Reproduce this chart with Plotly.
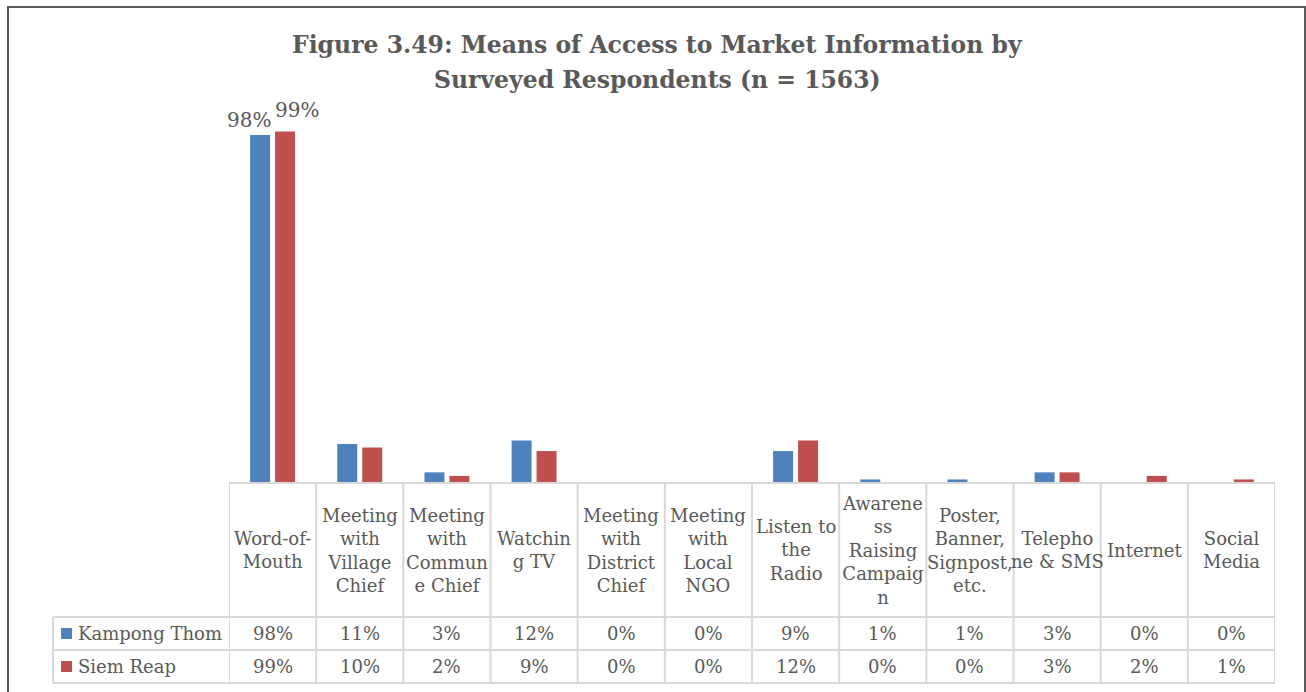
import plotly.graph_objects as go

# ---- data -------------------------------------------------------------
categories = [
    "Word-of-Mouth", "Meeting with Village Chief", "Meeting with Commune Chief",
    "Watching TV", "Meeting with District Chief", "Meeting with Local NGO",
    "Listen to the Radio", "Awareness Raising Campaign",
    "Poster, Banner, Signpost, etc.", "Telephone & SMS", "Internet", "Social Media",
]
# header labels as wrapped in the data-table cells
header_labels = [
    "Word-of-<br>Mouth", "Meeting<br>with<br>Village<br>Chief",
    "Meeting<br>with<br>Commun<br>e Chief", "Watchin<br>g TV",
    "Meeting<br>with<br>District<br>Chief", "Meeting<br>with<br>Local<br>NGO",
    "Listen to<br>the<br>Radio", "Awarene<br>ss<br>Raising<br>Campaig<br>n",
    "Poster,<br>Banner,<br>Signpost,<br>etc.", "Telepho<br>ne & SMS",
    "Internet", "Social<br>Media",
]
series_names = ["Kampong Thom", "Siem Reap"]
kampong_thom = [0.98, 0.11, 0.03, 0.12, 0.00, 0.00, 0.09, 0.01, 0.01, 0.03, 0.00, 0.00]
siem_reap = [0.99, 0.10, 0.02, 0.09, 0.00, 0.00, 0.12, 0.00, 0.00, 0.03, 0.02, 0.01]
colors = ["#4F81BD", "#C0504D"]

title_lines = ["Figure 3.49: Means of Access to Market Information by",
               "Surveyed Respondents (n = 1563)"]

# ---- canvas geometry --------------------------------------------------
W, H = 1306, 692
FONT = "DejaVu Serif"
TXT = "#595959"
GRID = "#D9D9D9"


def px(x):
    return x / W


def py(y):
    return 1 - y / H


plot_left, plot_right = 229, 1275
base_y, top_y = 483, 128          # pixel rows of 0% and 100%
row_tops = [617, 650, 683]        # data-table row boundaries
legend_left = 53

fig = go.Figure()
for name, vals, col in zip(series_names, [kampong_thom, siem_reap], colors):
    fig.add_bar(
        x=categories, y=vals, name=name, marker_color=col,
        marker_line_width=0, showlegend=False,
    )

shapes = []
annotations = []

# table horizontal lines
shapes.append(dict(type="line", xref="paper", yref="paper",
                   x0=px(plot_left), x1=px(plot_right), y0=py(base_y), y1=py(base_y),
                   line=dict(color=GRID, width=2)))
for r in row_tops:
    shapes.append(dict(type="line", xref="paper", yref="paper",
                       x0=px(legend_left), x1=px(plot_right), y0=py(r), y1=py(r),
                       line=dict(color=GRID, width=2)))
# table vertical lines: category boundaries
for i in range(len(categories) + 1):
    shapes.append(dict(type="line", xref="x", yref="paper",
                       x0=i - 0.5, x1=i - 0.5, y0=py(base_y), y1=py(row_tops[-1]),
                       line=dict(color=GRID, width=2)))
shapes.append(dict(type="line", xref="paper", yref="paper",
                   x0=px(legend_left), x1=px(legend_left),
                   y0=py(row_tops[0]), y1=py(row_tops[-1]),
                   line=dict(color=GRID, width=2)))

# header cells
for cat, lab in zip(categories, header_labels):
    annotations.append(dict(x=cat, xref="x", y=py((base_y + row_tops[0]) / 2), yref="paper",
                            text=lab, showarrow=False, xanchor="center", yanchor="middle",
                            font=dict(family=FONT, size=18, color=TXT)))

# value rows with legend keys
for k, (name, vals, col) in enumerate(zip(series_names, [kampong_thom, siem_reap], colors)):
    yc = (row_tops[k] + row_tops[k + 1]) / 2
    for cat, v in zip(categories, vals):
        annotations.append(dict(x=cat, xref="x", y=py(yc), yref="paper",
                                text=f"{v:.0%}", showarrow=False,
                                xanchor="center", yanchor="middle",
                                font=dict(family=FONT, size=18, color=TXT)))
    shapes.append(dict(type="rect", xref="paper", yref="paper",
                       x0=px(61), x1=px(72), y0=py(yc - 5.5), y1=py(yc + 5.5),
                       fillcolor=col, line=dict(width=0)))
    annotations.append(dict(x=px(76), xref="paper", y=py(yc), yref="paper",
                            text=name, showarrow=False, xanchor="left", yanchor="middle",
                            font=dict(family=FONT, size=18, color=TXT)))

# data labels on the Word-of-Mouth pair
for vals, dx, dy in [(kampong_thom, -24, 1), (siem_reap, 24, 8)]:
    annotations.append(dict(x=categories[0], xref="x", y=vals[0], yref="y",
                            text=f"{vals[0]:.0%}", showarrow=False,
                            xanchor="center", yanchor="bottom", xshift=dx, yshift=dy,
                            font=dict(family=FONT, size=20, color=TXT)))

# two-line bold title
for line, yc in zip(title_lines, [45, 80]):
    annotations.append(dict(x=px(657), xref="paper", y=py(yc), yref="paper",
                            text=f"<b>{line}</b>", showarrow=False,
                            xanchor="center", yanchor="middle",
                            font=dict(family=FONT, size=23.5, color=TXT)))

# chart frame
shapes.append(dict(type="rect", xref="paper", yref="paper",
                   x0=px(8), x1=px(1305), y0=-0.05, y1=py(7),
                   line=dict(color="#595959", width=2), fillcolor="rgba(0,0,0,0)"))

fig.update_layout(
    width=W, height=H,
    margin=dict(l=0, r=0, t=0, b=0),
    paper_bgcolor="white", plot_bgcolor="white",
    barmode="group", bargap=0.427, bargroupgap=0.2,
    xaxis=dict(domain=[px(plot_left), px(plot_right)], range=[-0.5, len(categories) - 0.5],
               showticklabels=False, showgrid=False, zeroline=False, showline=False,
               ticks="", fixedrange=True),
    yaxis=dict(domain=[py(base_y), py(top_y)], range=[0, 1.0],
               visible=False, showgrid=False, zeroline=False, fixedrange=True),
    shapes=shapes,
    annotations=annotations,
    font=dict(family=FONT, color=TXT),
)

fig.write_html("out.html")
